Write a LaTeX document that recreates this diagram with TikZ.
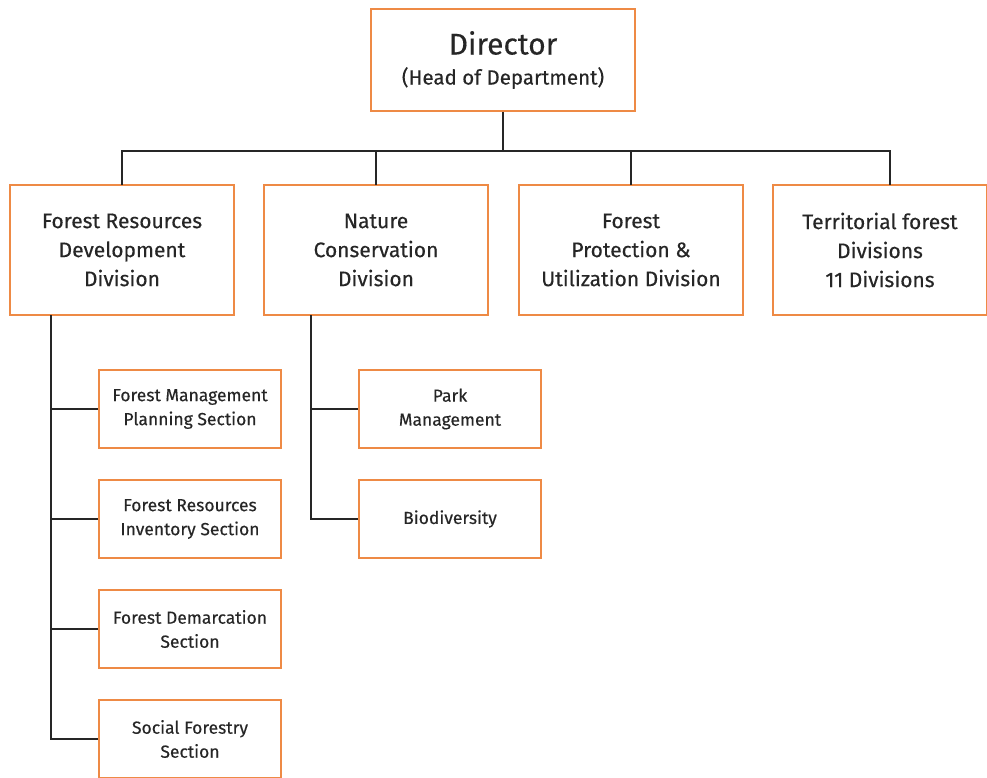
\documentclass[tikz,border=0pt]{standalone}
\usepackage{fontspec}
\setmainfont{Fira Sans}[FakeBold=0.3]
\usetikzlibrary{positioning}
\definecolor{boxorange}{HTML}{EE8A45}
\tikzset{
  unit/.style={draw=boxorange, line width=1.6pt, fill=white, align=center, inner sep=0pt,
    text=black!85, font=\fontsize{21}{29}\selectfont},
  division/.style={unit, minimum width=224pt, minimum height=130pt},
  section/.style={unit, minimum width=182pt, minimum height=78pt,
    font=\fontsize{17.5}{24}\selectfont},
  link/.style={line width=1.3pt, black!85}
}
\begin{document}
\begin{tikzpicture}[x=1pt,y=-1pt]
  \useasboundingbox (0,0) rectangle (987,778);
  % Kopf
  \node[unit, minimum width=264pt, minimum height=102pt] (dir) at (503,60)
    {{\fontsize{30}{34}\selectfont Director}\\[1pt]{\fontsize{20.5}{24}\selectfont(Head of Department)}};
  % Abteilungen
  \node[division] (frd) at (122,250) {Forest Resources\\Development\\Division};
  \node[division] (ncd) at (376,250) {Nature\\Conservation\\Division};
  \node[division] (fpu) at (631,250) {Forest\\Protection \&\\Utilization Division};
  \node[division, minimum width=214pt] (tfd) at (880,250) {Territorial forest\\Divisions\\11 Divisions};
  % Sektionen
  \node[section] (fmp) at (190,409) {Forest Management\\Planning Section};
  \node[section] (fri) at (190,519) {Forest Resources\\Inventory Section};
  \node[section] (fds) at (190,629) {Forest Demarcation\\Section};
  \node[section] (sfs) at (190,739) {Social Forestry\\Section};
  \node[section] (pkm) at (450,409) {Park\\Management};
  \node[section] (bio) at (450,519) {Biodiversity};
  % Linien
  \coordinate (bus) at (503,151);
  \coordinate (frdtrunk) at (51,315);
  \coordinate (ncdtrunk) at (311,315);
  \draw[link] (dir.south) -- (bus);
  \foreach \n/\xx in {frd/122,ncd/376,fpu/631,tfd/890}
    \draw[link] (\xx,185) |- (bus);
  \foreach \n in {fmp,fri,fds,sfs}
    \draw[link] (frdtrunk) |- (\n.west);
  \foreach \n in {pkm,bio}
    \draw[link] (ncdtrunk) |- (\n.west);
\end{tikzpicture}
\end{document}
